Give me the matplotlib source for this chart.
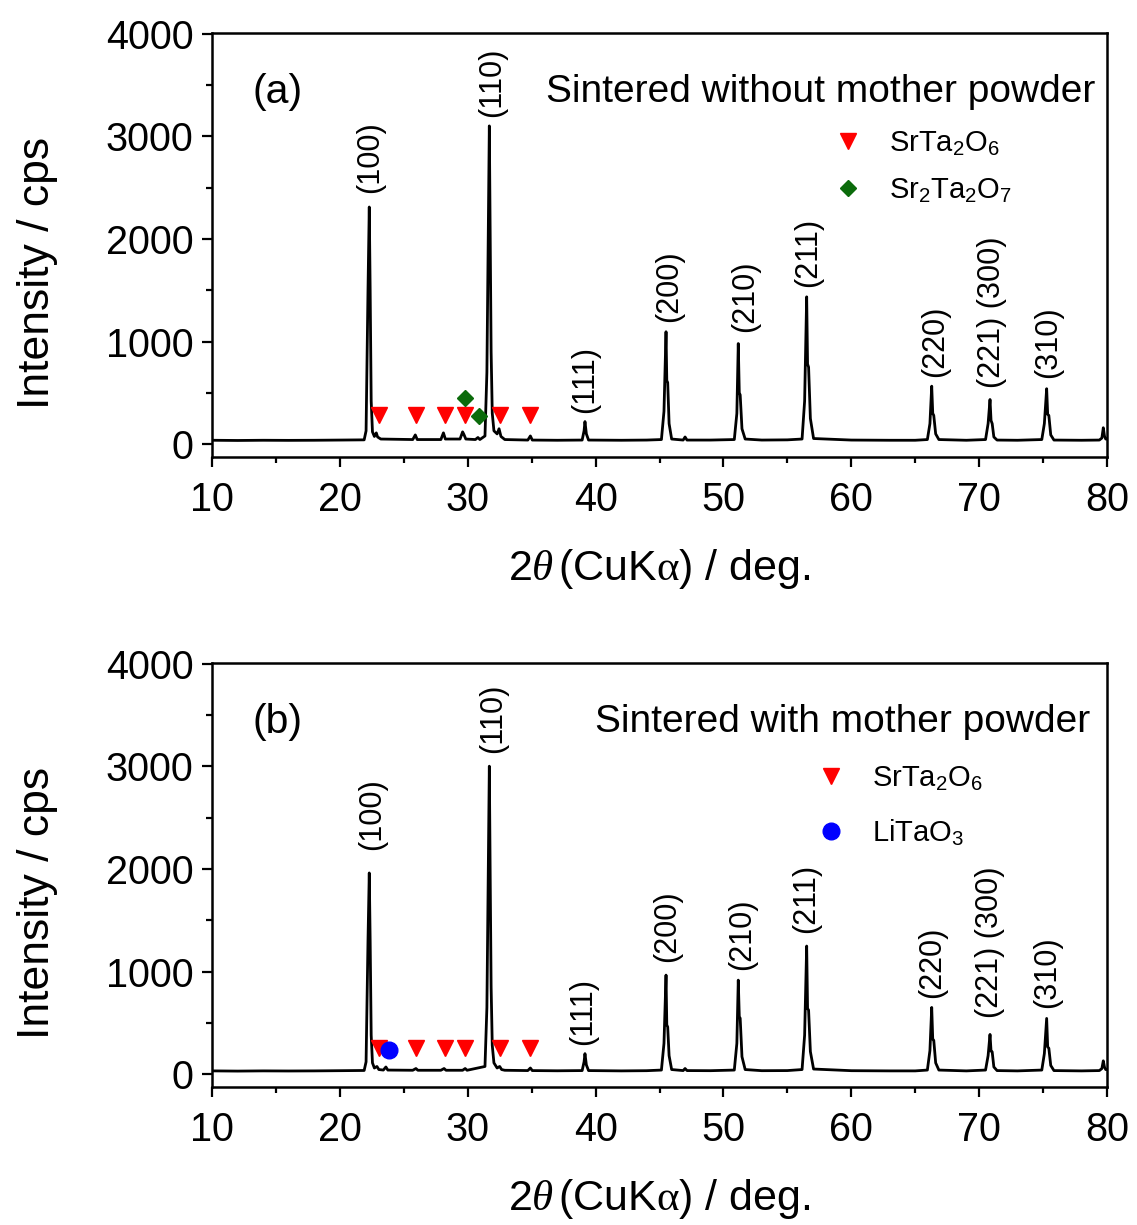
import matplotlib
matplotlib.use("Agg")
import matplotlib.pyplot as plt
from matplotlib.lines import Line2D
from matplotlib.ticker import MultipleLocator

plt.rcParams['font.family'] = ['Liberation Sans', 'DejaVu Sans']
plt.rcParams['mathtext.fontset'] = 'custom'
plt.rcParams['mathtext.rm'] = 'Liberation Sans'
plt.rcParams['mathtext.it'] = 'Liberation Serif:italic'
plt.rcParams['mathtext.sf'] = 'Liberation Serif'
plt.rcParams['mathtext.default'] = 'regular'

# ---------------- data ----------------
two_theta_a = [10.0, 12.0, 14.0, 16.0, 18.0, 20.0, 21.9,
               22.05, 22.2, 22.3, 22.37, 22.45, 22.55, 22.7, 22.85, 22.95, 23.2,
               25.7, 25.9, 26.05, 27.9, 28.1, 28.25, 29.4, 29.6, 29.7, 29.85,
               30.6, 30.8, 30.95,
               31.35, 31.5, 31.69, 31.76, 31.83, 31.92, 32.05, 32.3, 32.45, 32.6, 32.9,
               34.7, 34.9, 35.05, 37.0,
               38.95, 39.1, 39.17, 39.28, 39.45, 42.0, 44.0,
               45.15, 45.35, 45.51, 45.57, 45.64, 45.75, 45.95,
               46.85, 47.0, 47.15, 49.0,
               50.85, 51.05, 51.16, 51.24, 51.31, 51.45, 51.7, 53.0, 55.0,
               56.15, 56.35, 56.51, 56.58, 56.66, 56.8, 57.05,
               60.0, 63.0, 65.0,
               65.95, 66.15, 66.29, 66.37, 66.45, 66.6, 66.85, 69.0,
               70.5, 70.7, 70.85, 70.93, 71.02, 71.15, 71.4, 73.0,
               74.9, 75.1, 75.28, 75.36, 75.45, 75.6, 75.85, 78.0,
               79.4, 79.6, 79.71, 79.8, 79.9, 80.0]
intensity_a = [38, 36, 38, 37, 38, 40, 42,
               130, 1500, 2310, 1500, 420, 120, 75, 110, 70, 50,
               45, 90, 45, 45, 110, 50, 50, 120, 95, 50,
               45, 65, 45,
               80, 700, 3100, 2000, 900, 300, 130, 100, 150, 75, 45,
               40, 80, 40, 38,
               40, 130, 220, 100, 40, 38, 40,
               45, 320, 1095, 620, 600, 200, 50,
               40, 70, 40, 40,
               45, 300, 980, 500, 480, 150, 50, 40, 42,
               50, 420, 1435, 780, 750, 250, 55,
               40, 38, 38,
               45, 200, 565, 300, 280, 100, 45, 38,
               45, 200, 435, 230, 200, 70, 40, 38,
               45, 200, 540, 290, 280, 90, 40, 38,
               40, 60, 160, 80, 50, 50]

two_theta_b = [10.0, 12.0, 14.0, 16.0, 18.0, 20.0, 21.9,
               22.05, 22.2, 22.3, 22.37, 22.45, 22.55, 22.7, 22.9, 23.05, 23.4, 23.6, 23.75,
               25.7, 25.95, 26.1, 27.9, 28.15, 28.3, 29.6, 29.8, 29.95,
               31.35, 31.5, 31.69, 31.76, 31.83, 31.92, 32.05, 32.3, 32.5, 32.65, 32.9,
               34.7, 34.9, 35.05, 37.0,
               38.95, 39.1, 39.17, 39.28, 39.45, 42.0, 44.0,
               45.15, 45.35, 45.51, 45.57, 45.64, 45.75, 45.95,
               46.85, 47.0, 47.15, 49.0,
               50.85, 51.05, 51.16, 51.24, 51.31, 51.45, 51.7, 53.0, 55.0,
               56.15, 56.35, 56.51, 56.58, 56.66, 56.8, 57.05,
               60.0, 63.0, 65.0,
               65.95, 66.15, 66.29, 66.37, 66.45, 66.6, 66.85, 69.0,
               70.5, 70.7, 70.85, 70.93, 71.02, 71.15, 71.4, 73.0,
               74.9, 75.1, 75.28, 75.36, 75.45, 75.6, 75.85, 78.0,
               79.4, 79.6, 79.71, 79.8, 79.9, 80.0]
intensity_b = [32, 30, 32, 31, 32, 34, 36,
               120, 1300, 1960, 1300, 380, 110, 60, 75, 45, 40, 70, 40,
               38, 55, 38, 38, 55, 38, 38, 55, 38,
               75, 650, 3000, 1900, 850, 280, 110, 60, 75, 45, 38,
               35, 60, 35, 33,
               35, 120, 200, 90, 35, 32, 34,
               40, 300, 965, 480, 460, 180, 45,
               35, 55, 35, 34,
               40, 300, 916, 560, 545, 170, 45, 34, 35,
               45, 380, 1248, 640, 624, 220, 50,
               34, 32, 32,
               40, 230, 650, 340, 330, 110, 40, 32,
               40, 180, 387, 225, 217, 70, 35, 32,
               40, 200, 543, 265, 253, 85, 35, 32,
               35, 55, 130, 70, 45, 45]

peak_labels = ['(100)', '(110)', '(111)', '(200)', '(210)', '(211)', '(220)',
               '(221) (300)', '(310)']
label_x_a = [22.36, 31.9, 39.17, 45.74, 51.69, 56.6, 66.55, 71.0, 75.38]
label_y_a = [2446, 3187, 302, 1190, 1092, 1530, 653, 546, 643]
label_x_b = [22.5, 31.95, 39.0, 45.6, 51.5, 56.5, 66.3, 70.85, 75.3]
label_y_b = [2183, 3129, 283, 1092, 1014, 1374, 741, 546, 643]

srta2o6_x = [23.1, 25.95, 28.2, 29.8, 32.5, 34.9]
srta2o6_y_a = [285, 285, 285, 285, 285, 285]
srta2o6_y_b = [255, 255, 255, 255, 255, 255]
sr2ta2o7_x = [29.8, 30.9]
sr2ta2o7_y = [450, 275]
litao3_x = [23.87]
litao3_y = [240]

titles = ['Sintered without mother powder', 'Sintered with mother powder']
panel_tags = ['(a)', '(b)']

# ---------------- figure ----------------
fig = plt.figure(figsize=(11.37, 12.25), dpi=100)
ax_a = fig.add_axes([0.18646, 0.62694, 0.78716, 0.34612])
ax_b = fig.add_axes([0.18646, 0.11265, 0.78716, 0.34612])

RED = '#ff0000'
GREEN = '#0b6b0b'
BLUE = '#0000ff'


def style_axis(ax):
    ax.set_xlim(10, 80)
    ax.set_ylim(-125, 4005)
    ax.xaxis.set_major_locator(MultipleLocator(10))
    ax.xaxis.set_minor_locator(MultipleLocator(5))
    ax.yaxis.set_major_locator(MultipleLocator(1000))
    ax.yaxis.set_minor_locator(MultipleLocator(500))
    ax.tick_params(which='both', direction='out', top=False, right=False,
                   width=1.6, labelsize=28.5)
    ax.tick_params(which='major', length=7.5)
    ax.tick_params(which='minor', length=4)
    ax.tick_params(axis='x', pad=10)
    ax.tick_params(axis='y', pad=6)
    for s in ax.spines.values():
        s.set_linewidth(1.8)
    ax.set_xlabel(r'2$\mathit{\theta}\,$(CuK$\mathsf{\alpha}$) / deg.', fontsize=31, labelpad=20)
    ax.set_ylabel('Intensity / cps', fontsize=32)
    ax.yaxis.set_label_coords(-0.172, 0.434)


for ax, tt, yy, lx, ly, title, tag in [
        (ax_a, two_theta_a, intensity_a, label_x_a, label_y_a, titles[0], panel_tags[0]),
        (ax_b, two_theta_b, intensity_b, label_x_b, label_y_b, titles[1], panel_tags[1])]:
    style_axis(ax)
    ax.plot(tt, yy, color='black', lw=2.0, zorder=2)
    for lab, x, y in zip(peak_labels, lx, ly):
        ax.text(x, y, lab, rotation=90, ha='center', va='bottom', fontsize=22)
    ax.text(0.0447, 0.835, tag, transform=ax.transAxes, fontsize=29.5, va='baseline', ha='left')

ax_a.text(0.9866, 0.837, titles[0], transform=ax_a.transAxes, fontsize=28,
          va='baseline', ha='right')
ax_b.text(0.981, 0.837, titles[1], transform=ax_b.transAxes, fontsize=28,
          va='baseline', ha='right')

# phase markers
ax_a.plot(srta2o6_x, srta2o6_y_a, linestyle='none', marker='v', color=RED, markersize=12, zorder=3)
ax_a.plot(sr2ta2o7_x, sr2ta2o7_y, linestyle='none', marker='D', color=GREEN, markersize=8, zorder=3)
ax_b.plot(srta2o6_x, srta2o6_y_b, linestyle='none', marker='v', color=RED, markersize=12, zorder=3)
ax_b.plot(litao3_x, litao3_y, linestyle='none', marker='o', color=BLUE, markersize=12, zorder=4)

# legends
h_tri = Line2D([], [], linestyle='none', marker='v', color=RED, markersize=11)
h_dia = Line2D([], [], linestyle='none', marker='D', color=GREEN, markersize=8)
h_cir = Line2D([], [], linestyle='none', marker='o', color=BLUE, markersize=12)
leg_kw = dict(loc='upper left', frameon=False, fontsize=21, handlelength=1.0,
              handletextpad=0.9, borderpad=0, borderaxespad=0, numpoints=1)
ax_a.legend([h_tri, h_dia], [r'SrTa$_2$O$_6$', r'Sr$_2$Ta$_2$O$_7$'],
            bbox_to_anchor=(0.694, 0.772), labelspacing=0.6, **leg_kw)
ax_b.legend([h_tri, h_cir], [r'SrTa$_2$O$_6$', r'LiTaO$_3$'],
            bbox_to_anchor=(0.675, 0.762), labelspacing=0.85, **leg_kw)

fig.savefig('out.png', dpi=100)
